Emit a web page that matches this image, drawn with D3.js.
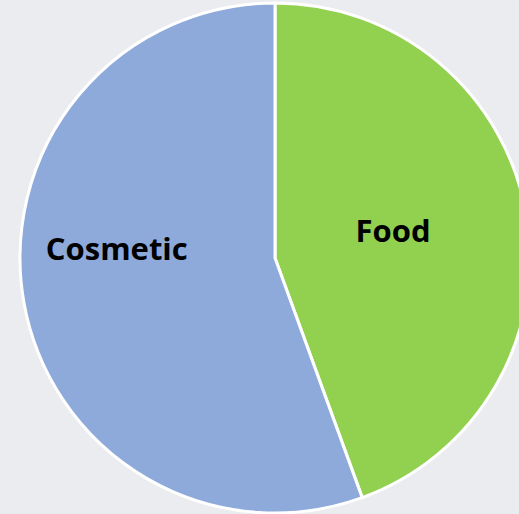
<!DOCTYPE html>
<html>
<head>
<meta charset="utf-8">
<script src="https://cdn.jsdelivr.net/npm/d3@7"></script>
<style>
  html, body { margin: 0; padding: 0; background: #ebecf0; overflow: hidden; }
  svg { display: block; }
</style>
</head>
<body>
<svg id="chart" width="519" height="514"></svg>
<script>
// data
var categories = ["Food", "Cosmetic"];
var values = [4, 5];
var colors = ["#92d050", "#8eaadb"];

var svg = d3.select("#chart"),
    cx = 275, cy = 258, radius = 255;

var g = svg.append("g").attr("transform", "translate(" + cx + "," + cy + ")");

var pie = d3.pie().sort(null).value(function(d) { return d; });
var arcs = pie(values);

var arc = d3.arc().innerRadius(0).outerRadius(radius);

g.selectAll("path.slice")
    .data(arcs)
  .enter().append("path")
    .attr("class", "slice")
    .attr("d", arc)
    .attr("fill", function(d, i) { return colors[i]; })
    .attr("stroke", "#ffffff")
    .attr("stroke-width", 3)
    .attr("stroke-linejoin", "round");

// label placement (Excel puts them a bit off the centroid)
var labelR = [0.47, 0.63];
var labelDy = [-6, -37];

g.selectAll("text.lbl")
    .data(arcs)
  .enter().append("text")
    .attr("class", "lbl")
    .attr("transform", function(d, i) {
        var a = d3.arc().innerRadius(radius * labelR[i]).outerRadius(radius * labelR[i]);
        var c = a.centroid(d);
        return "translate(" + c[0] + "," + (c[1] + labelDy[i]) + ")";
    })
    .attr("text-anchor", "middle")
    .attr("dy", "0.35em")
    .style("font-family", "'Open Sans', sans-serif")
    .style("font-weight", "bold")
    .style("font-size", "31px")
    .style("fill", "#000")
    .text(function(d, i) { return categories[i]; });
</script>
</body>
</html>
